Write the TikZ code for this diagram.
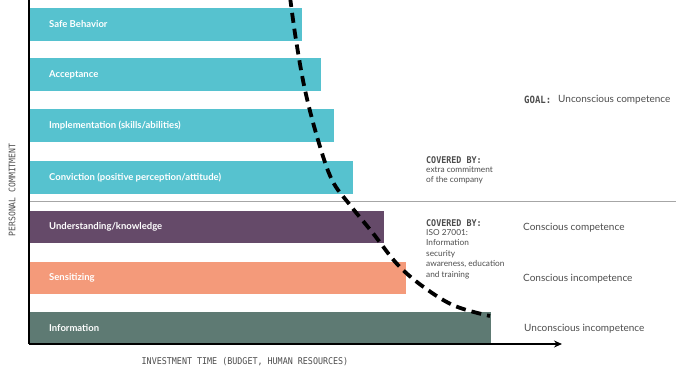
\documentclass[tikz,border=0pt]{standalone}
\usepackage{fontspec}
\setmainfont{Lato}
\newfontfamily\monof[FakeStretch=0.9]{DejaVu Sans Mono}
\usetikzlibrary{arrows.meta}
\definecolor{cteal}{HTML}{56C2CF}
\definecolor{cpurple}{HTML}{654A69}
\definecolor{csalmon}{HTML}{F49A7A}
\definecolor{cgreen}{HTML}{5E7A73}
\definecolor{ctext}{HTML}{4D4D4D}
\tikzset{
  barbox/.style={anchor=north west, inner sep=0pt, draw=none},
  barlabel/.style={anchor=west, inner sep=0pt, text=white, font=\fontsize{9.5}{11}\selectfont\bfseries},
  sidelabel/.style={anchor=west, inner sep=0pt, text=ctext, font=\fontsize{10}{12}\selectfont},
  monolabel/.style={anchor=west, inner sep=0pt, text=ctext, font=\monof\fontsize{9.3}{10}\selectfont\bfseries},
  smalltext/.style={anchor=north west, inner sep=0pt, text=ctext, align=left, font=\fontsize{8.3}{10.5}\selectfont},
  axis/.style={line width=1.8pt, black},
  curve/.style={line width=3.8pt, black, dash pattern=on 10pt off 6pt},
}
\newcommand\mybar[6]{%
  \node[barbox, fill=#4, minimum width=#2pt, minimum height=#3pt] (#5) at (30,#1) {};
  \node[barlabel] (#5t) at (49,#1+#3/2) {#6};
}
\begin{document}
\begin{tikzpicture}[x=1pt,y=-1pt]
\useasboundingbox (0,0) rectangle (677,387);
\mybar{8}{272}{33}{cteal}{b1}{Safe Behavior}
\mybar{58}{291}{33}{cteal}{b2}{Acceptance}
\mybar{109}{304}{33}{cteal}{b3}{Implementation (skills/abilities)}
\mybar{161}{323}{33}{cteal}{b4}{Conviction (positive perception/attitude)}
\mybar{211}{354}{32}{cpurple}{b5}{Understanding/knowledge}
\mybar{262}{376}{32}{csalmon}{b6}{Sensitizing}
\mybar{312}{461}{32}{cgreen}{b7}{Information}
% separator
\coordinate (s1) at (29,202);
\coordinate (s2) at (676,202);
\draw[line width=1pt, color=gray!70] (s1) -- (s2);
% axes
\coordinate (o) at (29,344);
\coordinate (ytop) at (29,0);
\coordinate (xend) at (562,344);
\draw[axis] (ytop) -- (o);
\draw[axis, -{Stealth[length=8pt,width=7pt]}] (o) -- (xend);
% dashed curve
\draw[curve] plot[smooth, tension=0.6] coordinates {(290,-3) (296,40) (305,90) (318,140) (332,180) (350,205) (372,232) (398,265) (425,288) (455,306) (490,316)};
% axis labels
\node[rotate=90, inner sep=0pt, text=ctext, font=\monof\fontsize{9}{10}\selectfont] (ylab) at (12,190) {PERSONAL COMMITMENT};
\node[inner sep=0pt, text=ctext, font=\monof\fontsize{9.3}{10}\selectfont] (xlab) at (245,362) {INVESTMENT TIME (BUDGET, HUMAN RESOURCES)};
% covered by
\node[monolabel] (c1) at (426,160) {COVERED BY:};
\node[smalltext] (c1t) at (426,166) {extra commitment\\of the company};
\node[monolabel] (c2) at (426,223) {COVERED BY:};
\node[smalltext] (c2t) at (426,229) {ISO 27001:\\Information\\security\\awareness, education\\and training};
% right labels
\node[anchor=west, inner sep=0pt, text=ctext, font=\monof\fontsize{10}{12}\selectfont\bfseries] (goal) at (524,100) {GOAL:};
\node[sidelabel] (goalt) at (558,100) {Unconscious competence};
\node[sidelabel] (r1) at (523,228) {Conscious competence};
\node[sidelabel] (r2) at (523,279) {Conscious incompetence};
\node[sidelabel] (r3) at (524,329) {Unconscious incompetence};
\end{tikzpicture}
\end{document}
